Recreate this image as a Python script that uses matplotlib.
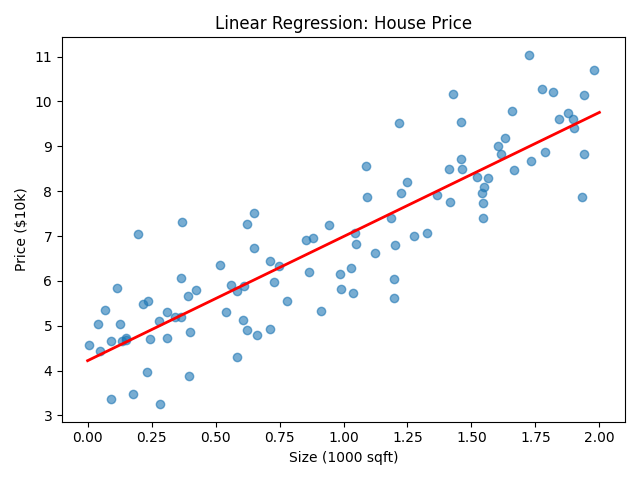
import numpy as np
import matplotlib
matplotlib.use("Agg")
from matplotlib import pyplot as plt

# house size (1000 sqft) and price ($10k)
size = [0.004, 0.04, 0.05, 0.066, 0.09, 0.09, 0.113, 0.125, 0.133, 0.149,
        0.149, 0.176, 0.196, 0.215, 0.235, 0.231, 0.243, 0.278, 0.282, 0.31,
        0.31, 0.34, 0.364, 0.364, 0.368, 0.391, 0.395, 0.399, 0.423, 0.517,
        0.540, 0.56, 0.583, 0.583, 0.607, 0.611, 0.622, 0.622, 0.65, 0.65,
        0.66, 0.712, 0.712, 0.73, 0.748, 0.779, 0.853, 0.865, 0.88, 0.912,
        0.943, 0.986, 0.99, 1.03, 1.037, 1.045, 1.049, 1.088, 1.092, 1.123,
        1.186, 1.198, 1.202, 1.198, 1.217, 1.225, 1.249, 1.276, 1.327, 1.366,
        1.413, 1.417, 1.429, 1.46, 1.46, 1.464, 1.523, 1.542, 1.546, 1.546,
        1.55, 1.566, 1.605, 1.616, 1.632, 1.66, 1.667, 1.726, 1.734, 1.777,
        1.789, 1.82, 1.843, 1.879, 1.898, 1.902, 1.933, 1.941, 1.941, 1.977]
price = [4.56, 5.03, 4.43, 5.35, 4.67, 3.36, 5.84, 5.03, 4.65, 4.72,
         4.68, 3.47, 7.04, 5.48, 5.55, 3.98, 4.70, 5.10, 3.25, 5.30,
         4.72, 5.19, 5.19, 6.06, 7.31, 5.66, 3.87, 4.85, 5.79, 6.35,
         5.30, 5.91, 5.77, 4.30, 5.12, 5.88, 7.27, 4.90, 7.51, 6.73,
         4.79, 6.44, 4.92, 5.97, 6.33, 5.55, 6.91, 6.20, 6.96, 5.32,
         7.25, 6.15, 5.82, 6.28, 5.73, 7.07, 6.82, 8.56, 7.87, 6.62,
         7.40, 6.04, 6.80, 5.61, 9.53, 7.96, 8.21, 7.00, 7.07, 7.92,
         8.50, 7.76, 10.17, 9.55, 8.72, 8.50, 8.32, 7.96, 7.74, 7.40,
         8.09, 8.30, 9.01, 8.83, 9.19, 9.79, 8.47, 11.04, 8.68, 10.28,
         8.88, 10.22, 9.61, 9.75, 9.61, 9.41, 7.87, 10.15, 8.83, 10.71]

slope, intercept = np.polyfit(size, price, 1)
x_line = np.array([0, 2])

plt.figure(figsize=(6.4, 4.8), dpi=100)
plt.scatter(size, price, alpha=0.6)
plt.plot(x_line, intercept + slope * x_line, color="red", linewidth=2)
plt.title("Linear Regression: House Price")
plt.xlabel("Size (1000 sqft)")
plt.ylabel("Price (\\$10k)")
plt.tight_layout()
plt.savefig("out.png")
